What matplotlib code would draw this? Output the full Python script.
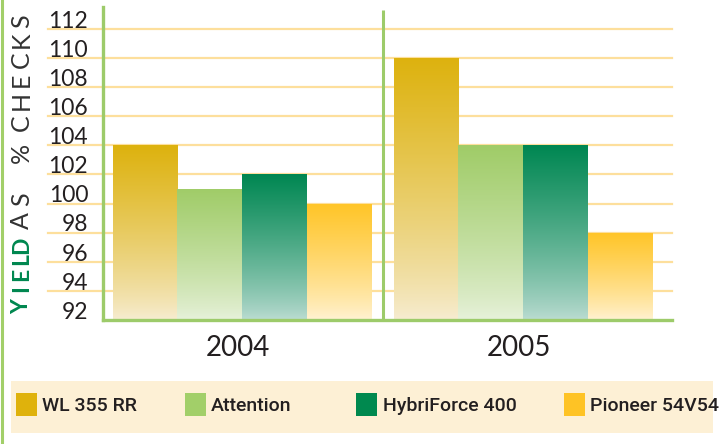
import numpy as np
import matplotlib
matplotlib.use('Agg')
import matplotlib.pyplot as plt
from matplotlib.colors import LinearSegmentedColormap
from matplotlib.patches import Rectangle
from matplotlib.lines import Line2D

# data
years = ['2004', '2005']
varieties = ['WL 355 RR', 'Attention', 'HybriForce 400', 'Pioneer 54V54']
wl355 = [104, 110]
attention = [101, 104]
hybriforce = [102, 104]
pioneer = [100, 98]
y_ticks = [92, 94, 96, 98, 100, 102, 104, 106, 108, 110, 112]

values = [wl355, attention, hybriforce, pioneer]
top_colors = ['#DDB20E', '#A0CC68', '#008752', '#FFC527']
bottom_colors = ['#F7EDD3', '#E8F2DC', '#BDDDD3', '#FFF3D5']
legend_colors = ['#DFB20C', '#A2CF69', '#00894F', '#FEC325']
axis_green = '#9DCB6A'
grid_color = '#FDDF9C'
text_color = '#231F20'

W, H = 721, 444
fig = plt.figure(figsize=(W / 100, H / 100), dpi=100)


def fx(px):
    return px / W


def fy(py):
    return 1 - py / H


ax = fig.add_axes([fx(103), fy(320), fx(672) - fx(103), fy(7) - fy(320)])
ymin, ymax = 92, 113.5
xlim = (-0.495, 1.53)
bw = 0.23

x = np.arange(len(years))
for i, vals in enumerate(values):
    xs = x + (i - 1.5) * bw
    cmap = LinearSegmentedColormap.from_list('g%d' % i, [bottom_colors[i], top_colors[i]])
    bars = ax.bar(xs, np.array(vals) - ymin, bw, bottom=ymin, color='none', linewidth=0, zorder=3)
    for b, v in zip(bars, vals):
        grad = np.linspace(0, 1, 256).reshape(-1, 1) ** 0.8
        im = ax.imshow(grad, cmap=cmap, origin='lower', aspect='auto',
                       extent=(b.get_x(), b.get_x() + bw, ymin, v), zorder=3)
        im.set_clip_path(b)

# grid lines, extending under the tick labels
for t in y_ticks[1:]:
    ax.plot([-0.097, 1.0], [t, t], transform=ax.get_yaxis_transform(),
            color=grid_color, lw=1.6, clip_on=False, zorder=1)

# separator between years
ax.plot([0.5, 0.5], [ymin, 113.3], color=axis_green, lw=2.2, zorder=2, solid_capstyle='butt')

ax.set_xlim(*xlim)
ax.set_ylim(ymin, ymax)
ax.set_xticks([])
ax.set_yticks([])
for s in ['top', 'right']:
    ax.spines[s].set_visible(False)
for s in ['left', 'bottom']:
    ax.spines[s].set_color(axis_green)
    ax.spines[s].set_linewidth(2.4)
    ax.spines[s].set_zorder(4)

for t in y_ticks:
    ax.text(-0.026, t + 0.08, str(t), transform=ax.get_yaxis_transform(),
            ha='right', va='baseline', fontsize=16.5, family='Lato', color=text_color)

for xi, yr in zip(x, years):
    ax.text(xi - 0.015, -0.115, yr, transform=ax.get_xaxis_transform(),
            ha='center', va='baseline', fontsize=20, family='Lato', color=text_color)

# y label, letter spaced
label_bold = [('Y', 307), ('I', 289), ('E', 274), ('L', 259), ('D', 245)]
label_rest = [('A', 221), ('S', 199), ('%', 153), ('C', 123), ('H', 100),
              ('E', 80), ('C', 60), ('K', 40), ('S', 21)]
for ch, py in label_bold:
    fig.text(fx(21.5), fy(py), ch, rotation=90, ha='center', va='center',
             fontsize=16.5, fontweight='bold', family='Lato', color='#00874F')
for ch, py in label_rest:
    fig.text(fx(21.5), fy(py), ch, rotation=90, ha='center', va='center',
             fontsize=18, family='Lato', color='#333333')

# left border line
fig.add_artist(Line2D([fx(1.5), fx(1.5)], [0, 1], color='#A2CF69', lw=2.2))

# legend box
fig.add_artist(Rectangle((fx(11), fy(433)), fx(713) - fx(11), fy(381) - fy(433),
                         transform=fig.transFigure, facecolor='#FDF0D5', edgecolor='none'))
patch_x = [16, 185, 356, 564]
text_x = [42, 211, 383, 590]
for name, c, px, tx in zip(varieties, legend_colors, patch_x, text_x):
    fig.add_artist(Rectangle((fx(px), fy(416)), fx(21), fy(393) - fy(416),
                             transform=fig.transFigure, facecolor=c, edgecolor='none'))
    fig.text(fx(tx), fy(411), name, ha='left', va='baseline', fontsize=14,
             family='Roboto', fontweight='medium', color=text_color)

fig.savefig('out.png', dpi=100)
